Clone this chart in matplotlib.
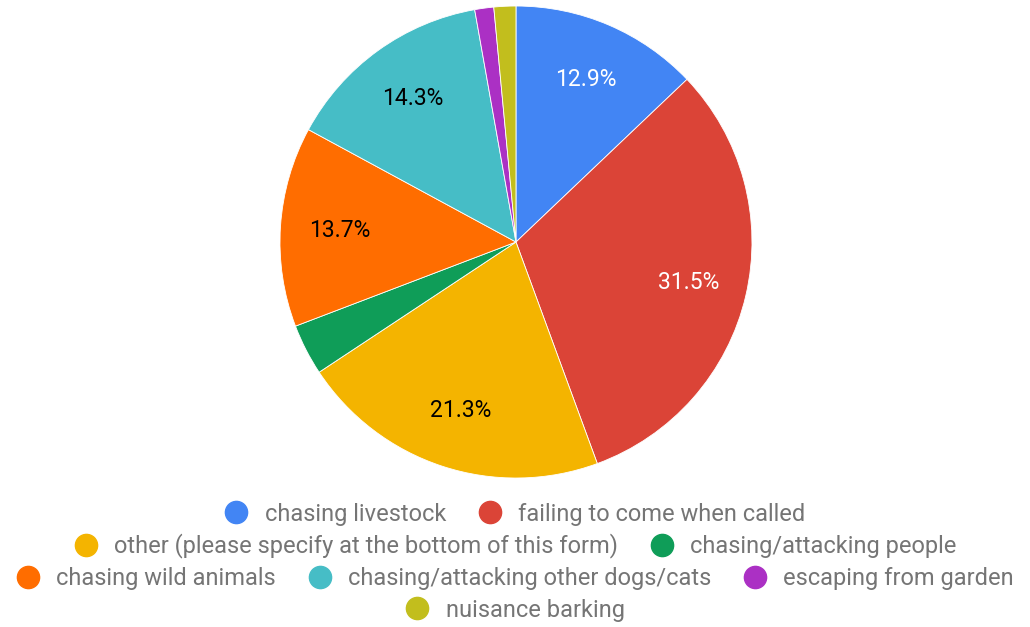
import matplotlib.pyplot as plt
from matplotlib.lines import Line2D

# slice data, clockwise from 12 o'clock
labels = [
    "chasing livestock",
    "failing to come when called",
    "other (please specify at the bottom of this form)",
    "chasing/attacking people",
    "chasing wild animals",
    "chasing/attacking other dogs/cats",
    "escaping from garden",
    "nuisance barking",
]
values = [12.9, 31.5, 21.3, 3.5, 13.7, 14.3, 1.3, 1.5]
colors = ["#4285F4", "#DB4437", "#F4B400", "#0F9D58",
          "#FF6D00", "#46BDC6", "#AB30C4", "#C2BE1D"]
text_colors = ["white", "white", "black", "black",
               "black", "black", "black", "black"]

# legend rows as google lays them out
legend_rows = [[0, 1], [2, 3], [4, 5, 6], [7]]

plt.rcParams['font.family'] = ['Roboto', 'DejaVu Sans']

fig = plt.figure(figsize=(10.3, 6.27), dpi=100)
ax = fig.add_axes((0.2718, 0.2376, 0.4583, 0.7528))

def fmt(p):
    return f"{p:.1f}%" if p >= 5 else ""

wedges, texts, autotexts = ax.pie(
    values, colors=colors, startangle=90, counterclock=False,
    autopct=fmt, pctdistance=0.75,
    wedgeprops=dict(edgecolor='white', linewidth=0.6),
    textprops=dict(fontsize=16.5))
for t, c in zip(autotexts, text_colors):
    t.set_color(c)

ax.set_xlim(-1, 1)
ax.set_ylim(-1, 1)
ax.set_aspect('equal')

row_y = [1 - 514 / 627, 1 - 546 / 627, 1 - 579 / 627, 1 - 610 / 627]
for row, y in zip(legend_rows, row_y):
    handles = [Line2D([], [], marker='o', linestyle='', markersize=16,
                      color=colors[i]) for i in row]
    leg = fig.legend(handles, [labels[i] for i in row], loc='center',
                     bbox_to_anchor=(0.5, y), ncol=len(row), frameon=False,
                     fontsize=17, handletextpad=0.7, columnspacing=1.35,
                     handlelength=1.0, borderpad=0, borderaxespad=0)
    for t in leg.get_texts():
        t.set_color('#757575')

fig.savefig("out.png", dpi=100)
